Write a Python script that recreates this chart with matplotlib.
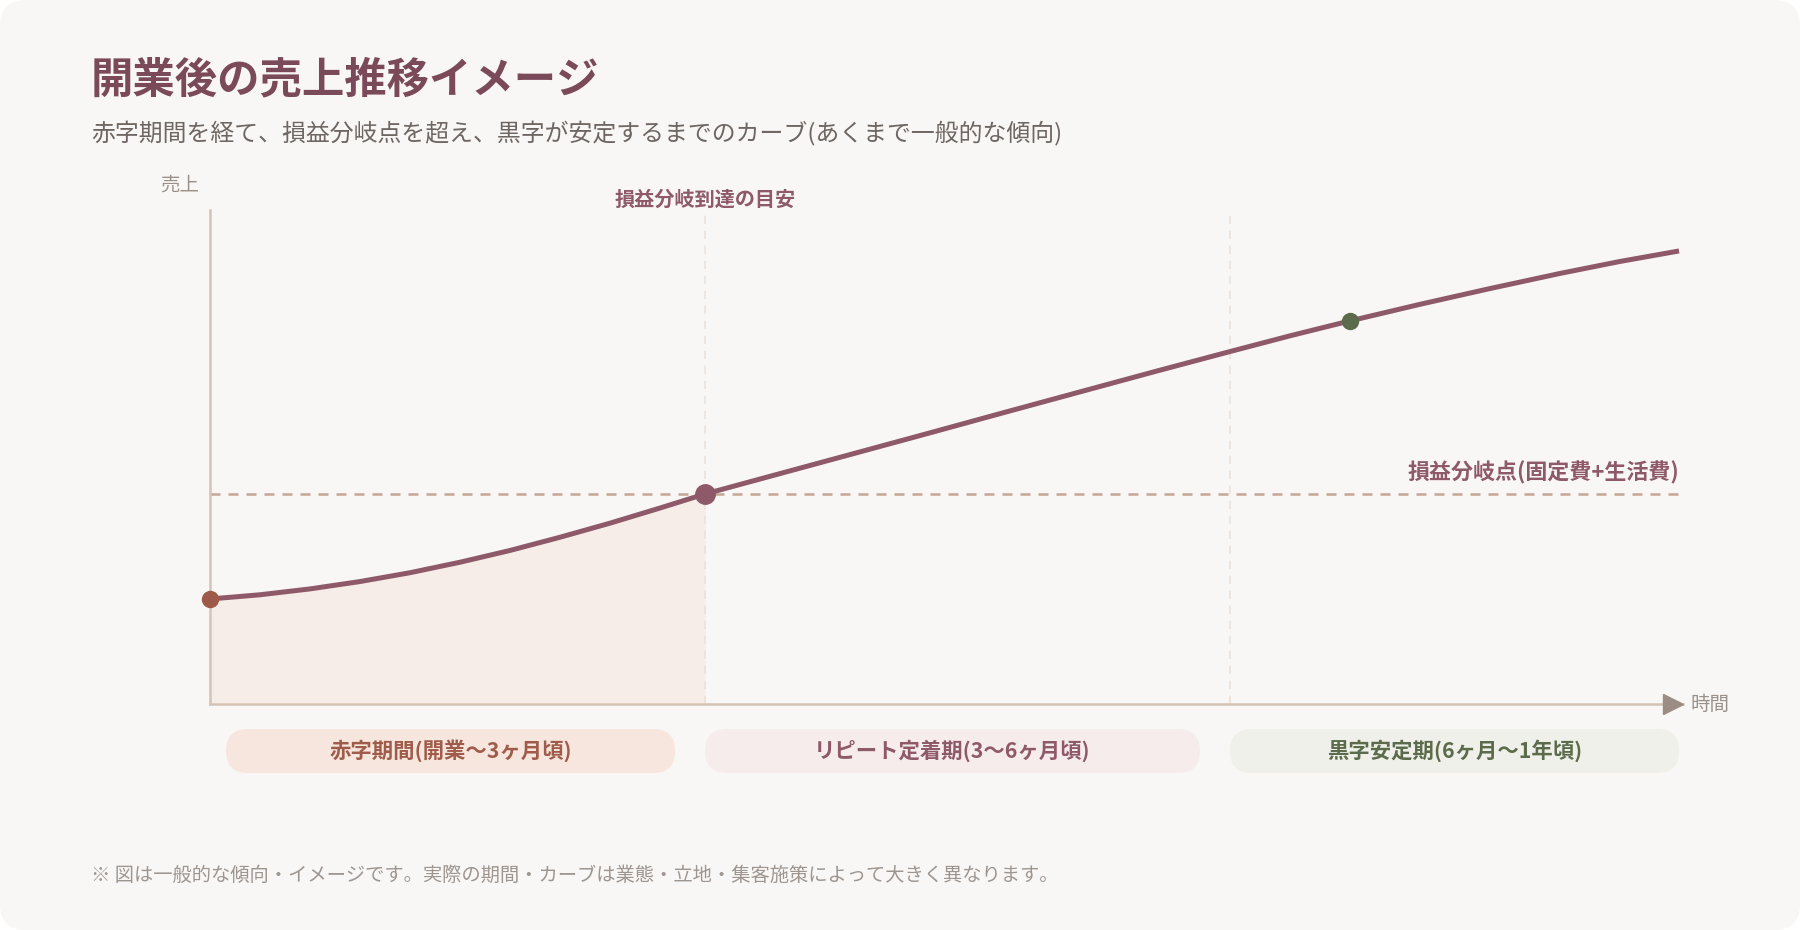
import matplotlib.pyplot as plt
from matplotlib.patches import FancyBboxPatch

plt.rcParams['font.family'] = ['Noto Sans CJK JP', 'DejaVu Sans']

# 経過 (0 = 開業, 100 = 右端) と 売上 (損益分岐点 = 100)
elapsed = [0, 3.4, 6.81, 10.21, 13.61, 17.02, 20.42, 23.83, 27.23, 30.63, 33.7,
           38.8, 43.91, 49.01, 54.12, 59.22, 64.33, 69.43, 73.52, 77.6,
           82.37, 87.13, 91.9, 95.98, 100]
sales = [50.0, 52.0, 54.8, 58.3, 62.5, 67.5, 73.1, 79.4, 86.1, 93.3, 100.0,
         109.7, 119.4, 129.1, 138.9, 148.6, 158.3, 167.8, 175.3, 182.4,
         190.3, 197.8, 205.0, 210.7, 215.7]

breakeven_level = 100
breakeven_t = 33.7
stable_t = 69.43
stable_dot = (77.6, 182.4)

phase_edges = [0, 33.7, 69.43, 100]
phase_labels = ['赤字期間(開業〜3ヶ月頃)', 'リピート定着期(3〜6ヶ月頃)', '黒字安定期(6ヶ月〜1年頃)']
phase_fill = ['#f7e6de', '#f7ecec', '#eef0e9']
phase_text = ['#a05c4a', '#8e5a6a', '#5b6b4b']

W, H = 1800, 930
fig = plt.figure(figsize=(18, 9.3), dpi=100)
fig.patch.set_facecolor('white')

# background card + free texts, in pixel units
bg = fig.add_axes([0, 0, 1, 1], zorder=0)
bg.set_xlim(0, W)
bg.set_ylim(H, 0)
bg.axis('off')
bg.add_patch(FancyBboxPatch((0, 0), W, H, boxstyle='round,pad=0,rounding_size=26',
                            facecolor='#f9f7f5', edgecolor='none'))

bg.text(91, 80, '開業後の売上推移イメージ', fontsize=30.5, fontweight='bold',
        color='#7b4a5a', va='center', ha='left')
bg.text(91, 134, '赤字期間を経て、損益分岐点を超え、黒字が安定するまでのカーブ(あくまで一般的な傾向)',
        fontsize=17.2, color='#6e6662', va='center', ha='left')
bg.text(180, 185, '売上', fontsize=14, color='#9a908a', va='center', ha='center')
bg.text(1690, 704, '時間', fontsize=14, color='#9a908a', va='center', ha='left')
bg.text(91, 875, '※ 図は一般的な傾向・イメージです。実際の期間・カーブは業態・立地・集客施策によって大きく異なります。',
        fontsize=13.9, color='#9d9590', va='center', ha='left')

# main plot
ax = fig.add_axes([210 / W, 1 - 704 / H, (1683 - 210) / W, (704 - 210) / H], zorder=1)
ax.set_facecolor('none')
ax.set_xlim(0, 100.27)
ax.set_ylim(0, 235.2)
for s in ['top', 'right']:
    ax.spines[s].set_visible(False)
for s in ['left', 'bottom']:
    ax.spines[s].set_color('#d5c4b3')
    ax.spines[s].set_linewidth(1.8)
ax.set_xticks([])
ax.set_yticks([])

# red period fill
n_red = elapsed.index(breakeven_t) + 1
ax.fill_between(elapsed[:n_red], 0, sales[:n_red], color='#f7ede8', zorder=1, lw=0)

for xv in [breakeven_t, stable_t]:
    ax.axvline(xv, color='#ebe2dc', lw=1.2, linestyle=(0, (5, 4)), zorder=1.5)

ax.hlines(breakeven_level, 0, 100, color='#c4a795', lw=1.8,
          linestyle=(0, (4, 3.2)), zorder=2)

ax.plot(elapsed, sales, color='#8e5a6a', lw=3.6, solid_capstyle='butt',
        solid_joinstyle='round', zorder=3)

ax.plot(elapsed[0], sales[0], 'o', ms=11.5, color='#9e5a48', zorder=4, clip_on=False)
ax.plot(breakeven_t, breakeven_level, 'o', ms=14, color='#8e5a6a', zorder=4)
ax.plot(*stable_dot, 'o', ms=11.5, color='#5b6b4b', zorder=4)

# axis arrow
ax.plot(99.6, 0, marker='>', ms=15, color='#9b8d84', clip_on=False, zorder=4)

ax.text(100, 110, '損益分岐点(固定費+生活費)', fontsize=15.8, fontweight='bold',
        color='#8e5a6a', ha='right', va='center')
ax.text(breakeven_t, 1, '損益分岐到達の目安', transform=ax.get_xaxis_transform(),
        fontsize=14.5, fontweight='bold', color='#8e5a6a', ha='center', va='bottom')

# phase pills under the axis
edges_px = [ax.transData.transform((e, 0))[0] for e in phase_edges]
for i, label in enumerate(phase_labels):
    x0 = edges_px[i] + (16 if i == 0 else 0)
    x1 = edges_px[i + 1] - (30 if i < len(phase_labels) - 1 else 0)
    bg.add_patch(FancyBboxPatch((x0, 729), x1 - x0, 44,
                                boxstyle='round,pad=0,rounding_size=22',
                                facecolor=phase_fill[i], edgecolor='none'))
    bg.text((x0 + x1) / 2, 751, label, fontsize=15.4, fontweight='bold',
            color=phase_text[i], ha='center', va='center')

fig.savefig('out.png', dpi=100, facecolor='white')
